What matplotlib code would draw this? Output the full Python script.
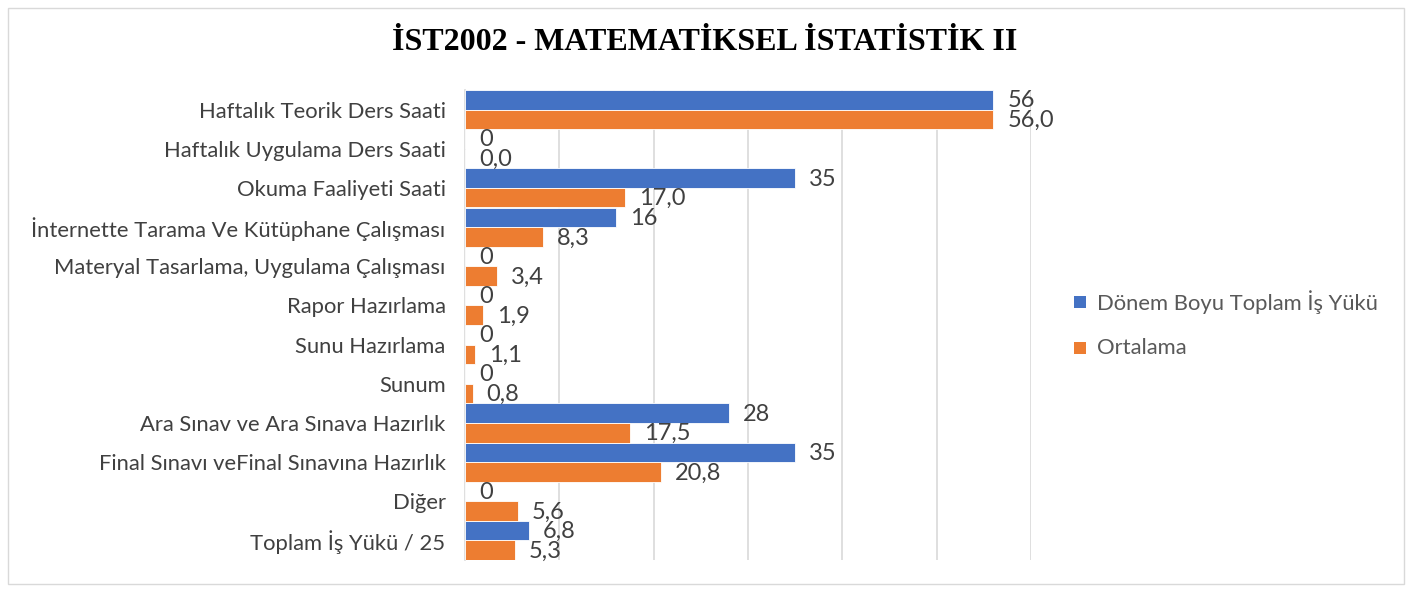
import matplotlib
matplotlib.use("Agg")
import matplotlib.pyplot as plt
from matplotlib.patches import Rectangle
import numpy as np

categories = [
    "Haftalık Teorik Ders Saati",
    "Haftalık Uygulama Ders Saati",
    "Okuma Faaliyeti Saati",
    "İnternette Tarama Ve Kütüphane Çalışması",
    "Materyal Tasarlama, Uygulama Çalışması",
    "Rapor Hazırlama",
    "Sunu Hazırlama",
    "Sunum",
    "Ara Sınav ve Ara Sınava Hazırlık",
    "Final Sınavı veFinal Sınavına Hazırlık",
    "Diğer",
    "Toplam İş Yükü / 25",
]
toplam = [56, 0, 35, 16, 0, 0, 0, 0, 28, 35, 0, 6.8]
toplam_labels = ["56", "0", "35", "16", "0", "0", "0", "0", "28", "35", "0", "6,8"]
ortalama = [56.0, 0.0, 17.0, 8.3, 3.4, 1.9, 1.1, 0.8, 17.5, 20.8, 5.6, 5.3]
ortalama_labels = ["56,0", "0,0", "17,0", "8,3", "3,4", "1,9", "1,1", "0,8", "17,5", "20,8", "5,6", "5,3"]
series_names = ["Dönem Boyu Toplam İş Yükü", "Ortalama"]
title = "İST2002 - MATEMATİKSEL İSTATİSTİK II"

BLUE = "#4472C4"
ORANGE = "#ED7D31"
TXT = "#404040"
FONT = "Lato"

W, H = 1412, 592
fig = plt.figure(figsize=(W / 100, H / 100), dpi=100)
fig.patches.append(Rectangle((8 / W, 8 / H), 1 - 16 / W, 1 - 16 / H, transform=fig.transFigure,
                             fill=False, edgecolor="#d9d9d9", linewidth=1))

left, right, top, bottom = 465, 1031, 90, 560
ax = fig.add_axes([left / W, 1 - bottom / H, (right - left) / W, (bottom - top) / H])

y = np.arange(len(categories))
h = 0.5
ax.barh(y - h / 2, toplam, height=h, color=BLUE, edgecolor="white", linewidth=0.6, zorder=3)
ax.barh(y + h / 2, ortalama, height=h, color=ORANGE, edgecolor="white", linewidth=0.6, zorder=3)

ax.set_xlim(0, 60)
ax.set_ylim(len(categories) - 0.5, -0.5)
ax.set_xticks(np.arange(0, 61, 10))
ax.xaxis.grid(True, color="#d9d9d9", linewidth=1.2, zorder=0)
ax.tick_params(axis="x", length=0, labelbottom=False)
ax.tick_params(axis="y", length=0, pad=14)
ax.set_yticks(y)
ax.set_yticklabels(categories, fontsize=15.8, color=TXT, family=FONT)
for s in ["top", "right", "bottom"]:
    ax.spines[s].set_visible(False)
ax.spines["left"].set_color("#d9d9d9")
ax.spines["left"].set_linewidth(1.2)

for i in range(len(categories)):
    ax.annotate(toplam_labels[i], (toplam[i], i - h / 2), xytext=(14, -1), textcoords="offset pixels",
                va="center", ha="left", fontsize=17, color=TXT, family=FONT, zorder=4)
    ax.annotate(ortalama_labels[i], (ortalama[i], i + h / 2), xytext=(14, -1), textcoords="offset pixels",
                va="center", ha="left", fontsize=17, color=TXT, family=FONT, zorder=4)

fig.text(705 / W, 1 - 42 / H, title, ha="center", va="center", fontsize=23, fontweight="bold",
         family="Liberation Serif", color="black")

# legend
for k, (name, col) in enumerate(zip(series_names, [BLUE, ORANGE])):
    yy = 302 + k * 46
    fig.patches.append(Rectangle((1074 / W, 1 - (yy + 6) / H), 12 / W, 12 / H, transform=fig.transFigure,
                                 facecolor=col, edgecolor="none"))
    fig.text(1097 / W, 1 - yy / H, name, ha="left", va="center", fontsize=15.8, color="#595959", family=FONT)

fig.savefig("out.png", dpi=100)
